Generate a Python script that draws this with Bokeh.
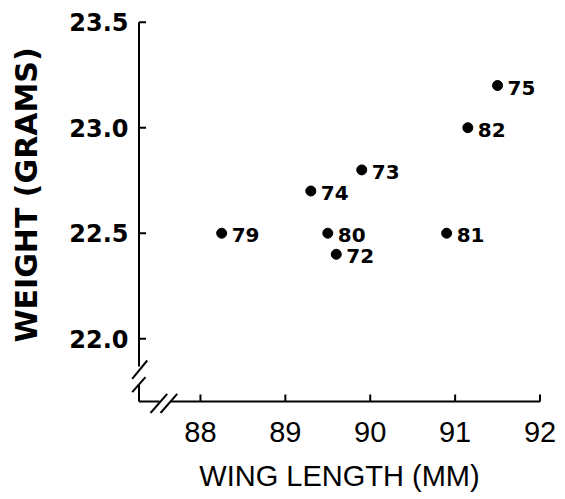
import math
from bokeh.plotting import figure
from bokeh.layouts import row
from bokeh.models import ColumnDataSource, FixedTicker, Range1d
from bokeh.embed import file_html
from bokeh.resources import INLINE
from bokeh.core.properties import value

# ---- data ----
years = ["72", "73", "74", "75", "79", "80", "81", "82"]
wing_mm = [89.6, 89.9, 89.3, 91.5, 88.25, 89.5, 90.9, 91.15]
weight_g = [22.4, 22.8, 22.7, 23.2, 22.5, 22.5, 22.5, 23.0]
x_ticks = [88, 89, 90, 91, 92]
y_ticks = [22.0, 22.5, 23.0, 23.5]
y_tick_labels = ["22.0", "22.5", "23.0", "23.5"]
x_label = "WING LENGTH (MM)"
y_label = "WEIGHT (GRAMS)"

# ---- layout (page pixels) ----
TOTAL_W, TOTAL_H = 565, 499
LAB_W = 45                      # narrow strip holding the vertical axis title
FRAME_L, FRAME_R, FRAME_T, FRAME_B = 130, 548, 12, 413
X0, X1 = 87.176, 92.1
Y0 = 23.5 - (FRAME_B - 21.7) / 211.0
Y1 = 23.5 + (21.7 - FRAME_T) / 211.0


def px_x(px):
    return X0 + (px - FRAME_L) / (FRAME_R - FRAME_L) * (X1 - X0)


def px_y(py):
    return Y1 - (py - FRAME_T) / (FRAME_B - FRAME_T) * (Y1 - Y0)


def dx(n):
    return n / (FRAME_R - FRAME_L) * (X1 - X0)


def dy(n):
    return n / (FRAME_B - FRAME_T) * (Y1 - Y0)


# ---- strip with the y axis title ----
lab = figure(width=LAB_W, height=TOTAL_H, x_range=Range1d(0, LAB_W),
             y_range=Range1d(TOTAL_H, 0), output_backend="svg",
             toolbar_location=None, x_axis_location=None, y_axis_location=None,
             min_border=0)
lab.outline_line_color = None
lab.xgrid.visible = False
lab.ygrid.visible = False
lab.text(x=[26], y=[227], text=[y_label], angle=math.pi / 2,
         text_align="center", text_baseline="middle",
         text_font=value("DejaVu Sans"), text_font_style="bold",
         text_font_size="30px", text_color="black")

# ---- main plot ----
W = TOTAL_W - LAB_W
p = figure(width=W, height=TOTAL_H, x_range=Range1d(X0, X1), y_range=Range1d(Y0, Y1),
           output_backend="svg", toolbar_location=None,
           min_border_left=FRAME_L - LAB_W, min_border_right=TOTAL_W - FRAME_R,
           min_border_top=FRAME_T, min_border_bottom=TOTAL_H - FRAME_B)
p.outline_line_color = None
p.xgrid.visible = False
p.ygrid.visible = False

# built-in axes carry only the tick labels / title; lines drawn below
for ax in (p.xaxis[0], p.yaxis[0]):
    ax.axis_line_color = None
    ax.major_tick_line_color = None
    ax.minor_tick_line_color = None
    ax.major_tick_in = 0
    ax.major_tick_out = 0
    ax.major_label_text_color = "black"
    ax.axis_label_text_color = "black"
    ax.axis_label_text_font_style = "normal"

p.xaxis.ticker = FixedTicker(ticks=x_ticks)
p.yaxis.ticker = FixedTicker(ticks=y_ticks)
p.yaxis.major_label_overrides = {t: s for t, s in zip(y_ticks, y_tick_labels)}

p.yaxis.major_label_text_font = "DejaVu Sans"
p.yaxis.major_label_text_font_style = "bold"
p.yaxis.major_label_text_font_size = "24px"
p.yaxis.major_label_standoff = 2

p.xaxis.major_label_text_font = "Liberation Sans"
p.xaxis.major_label_text_font_size = "29px"
p.xaxis.major_label_standoff = 8
p.xaxis.axis_label = x_label
p.xaxis.axis_label_text_font = "Liberation Sans"
p.xaxis.axis_label_text_font_size = "29px"
p.xaxis.axis_label_standoff = 15

# axis lines, inward ticks and break marks
ax_x = px_x(138.5)
ax_y = px_y(401)
seg_x0, seg_y0, seg_x1, seg_y1 = [], [], [], []


def seg(a, b, c, d):
    seg_x0.append(a); seg_y0.append(b); seg_x1.append(c); seg_y1.append(d)


seg(ax_x, y_ticks[-1], ax_x, px_y(366))          # y axis above the break
seg(ax_x, px_y(384), ax_x, ax_y)                 # y axis below the break
seg(ax_x, ax_y, px_x(159), ax_y)                 # x axis before the break
seg(px_x(170), ax_y, x_ticks[-1], ax_y)          # x axis after the break
for t in y_ticks:
    seg(ax_x, t, ax_x + dx(7), t)
for t in x_ticks:
    seg(t, ax_y, t, ax_y + dy(7))
seg(px_x(131.7), px_y(378.3), px_x(146.7), px_y(360))
seg(px_x(131.7), px_y(391.7), px_x(145), px_y(376.7))
seg(px_x(150), px_y(412.5), px_x(166.7), px_y(393.3))
seg(px_x(160), px_y(412.5), px_x(176.7), px_y(393.3))
p.segment(x0=seg_x0, y0=seg_y0, x1=seg_x1, y1=seg_y1, line_color="black",
          line_width=2, line_cap="butt")

src = ColumnDataSource(dict(x=wing_mm, y=weight_g, t=years))
p.scatter("x", "y", source=src, size=10, marker="circle", fill_color="black",
          line_color="black")
p.text("x", "y", text="t", source=src, x_offset=10, y_offset=2,
       text_baseline="middle", text_align="left",
       text_font=value("DejaVu Sans"), text_font_style="bold",
       text_font_size="20px", text_color="black")

layout = row(lab, p, spacing=0)
open("out.html", "w").write(file_html(layout, INLINE))
